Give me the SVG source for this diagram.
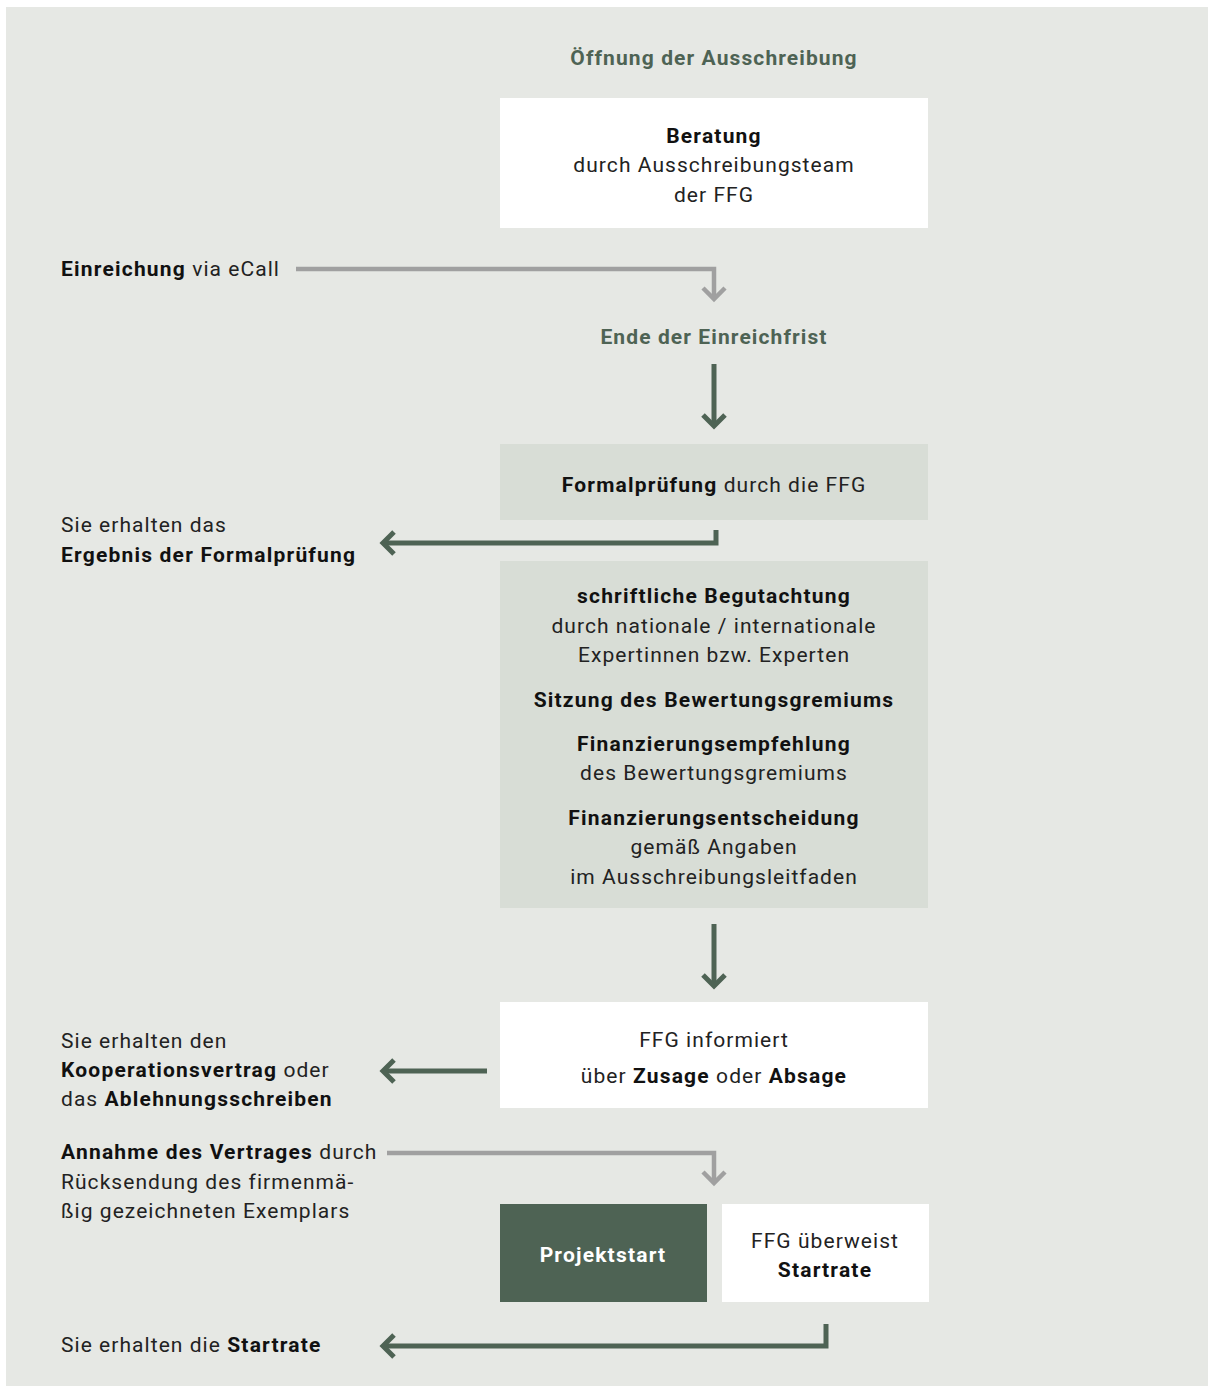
<svg xmlns="http://www.w3.org/2000/svg" width="1208" height="1387" viewBox="0 0 1208 1387">
<style>
text{font-family:Roboto,"Liberation Sans",sans-serif;font-size:21px;fill:#222;letter-spacing:1.05px}
.c{text-anchor:middle}
.b{font-weight:bold;fill:#111;letter-spacing:1.2px}
.h{font-weight:bold;fill:#4e6354;letter-spacing:1.1px}
.w{font-weight:bold;fill:#fff;letter-spacing:1.2px}
.dk{fill:none;stroke:#4e6354;stroke-width:5}
.gr{fill:none;stroke:#a0a0a0;stroke-width:4.5}
</style>
<rect x="6" y="7" width="1202" height="1379" fill="#e6e8e4"/>
<g id="connectors">
<path class="gr" d="M296 269H714V299"/>
<path class="gr" d="M703 288L714 299L725 288"/>
<path class="dk" d="M714 364V426"/>
<path class="dk" d="M703 415L714 426L725 415"/>
<path class="dk" d="M716 530V543H383"/>
<path class="dk" d="M394 532L383 543L394 554"/>
<path class="dk" d="M714 924V986"/>
<path class="dk" d="M703 975L714 986L725 975"/>
<path class="dk" d="M487 1071H383"/>
<path class="dk" d="M394 1060L383 1071L394 1082"/>
<path class="gr" d="M387 1153H714V1183"/>
<path class="gr" d="M703 1172L714 1183L725 1172"/>
<path class="dk" d="M826 1324V1346H383"/>
<path class="dk" d="M394 1335L383 1346L394 1357"/>
</g>
<g id="oeffnung"><text class="c h" x="714" y="65">Öffnung der Ausschreibung</text></g>
<g id="beratung">
<rect x="500" y="98" width="428" height="130" fill="#fff"/>
<text class="c b" x="714" y="143">Beratung</text>
<text class="c" x="714" y="172">durch Ausschreibungsteam</text>
<text class="c" x="714" y="202">der FFG</text>
</g>
<g id="einreichung"><text x="61" y="276"><tspan class="b">Einreichung</tspan> via eCall</text></g>
<g id="ende"><text class="c h" x="714" y="344">Ende der Einreichfrist</text></g>
<g id="formal">
<rect x="500" y="444" width="428" height="76" fill="#d8ddd6"/>
<text class="c" x="714" y="492"><tspan class="b">Formalprüfung</tspan> durch die FFG</text>
</g>
<g id="ergebnis">
<text x="61" y="532">Sie erhalten das</text>
<text class="b" x="61" y="562">Ergebnis der Formalprüfung</text>
</g>
<g id="begutachtung">
<rect x="500" y="561" width="428" height="347" fill="#d8ddd6"/>
<text class="c b" x="714" y="603">schriftliche Begutachtung</text>
<text class="c" x="714" y="633">durch nationale / internationale</text>
<text class="c" x="714" y="662">Expertinnen bzw. Experten</text>
<text class="c b" x="714" y="707">Sitzung des Bewertungsgremiums</text>
<text class="c b" x="714" y="751">Finanzierungsempfehlung</text>
<text class="c" x="714" y="780">des Bewertungsgremiums</text>
<text class="c b" x="714" y="825">Finanzierungsentscheidung</text>
<text class="c" x="714" y="854">gemäß Angaben</text>
<text class="c" x="714" y="884">im Ausschreibungsleitfaden</text>
</g>
<g id="informiert">
<rect x="500" y="1002" width="428" height="106" fill="#fff"/>
<text class="c" x="714" y="1047">FFG informiert</text>
<text class="c" x="714" y="1083">über <tspan class="b">Zusage</tspan> oder <tspan class="b">Absage</tspan></text>
</g>
<g id="vertrag">
<text x="61" y="1048">Sie erhalten den</text>
<text x="61" y="1077"><tspan class="b">Kooperationsvertrag</tspan> oder</text>
<text x="61" y="1106">das <tspan class="b">Ablehnungsschreiben</tspan></text>
</g>
<g id="annahme">
<text x="61" y="1159"><tspan class="b">Annahme des Vertrages</tspan> durch</text>
<text x="61" y="1189">Rücksendung des firmenmä-</text>
<text x="61" y="1218">ßig gezeichneten Exemplars</text>
</g>
<g id="projektstart">
<rect x="500" y="1204" width="207" height="98" fill="#4e6354"/>
<text class="c w" x="603" y="1262">Projektstart</text>
</g>
<g id="ueberweist">
<rect x="722" y="1204" width="207" height="98" fill="#fff"/>
<text class="c" x="825" y="1248">FFG überweist</text>
<text class="c b" x="825" y="1277">Startrate</text>
</g>
<g id="startrate"><text x="61" y="1352">Sie erhalten die <tspan class="b">Startrate</tspan></text></g>
</svg>
